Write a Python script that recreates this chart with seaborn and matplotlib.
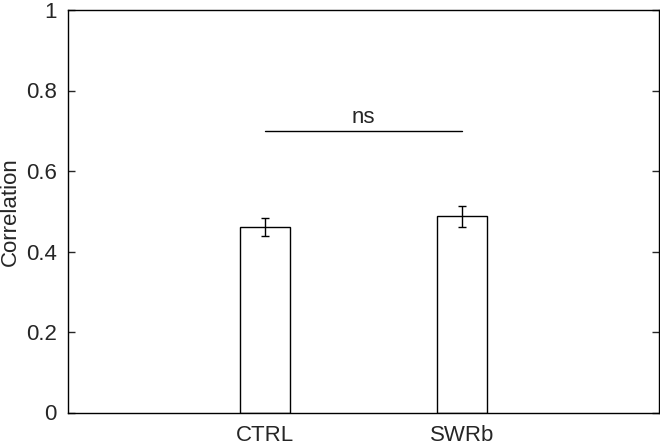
import matplotlib
matplotlib.use("Agg")
import matplotlib.pyplot as plt
import seaborn as sns
import pandas as pd

groups = ["CTRL", "SWRb"]
means = [0.461, 0.487]
errors = [0.022, 0.025]
sig_y = 0.70
sig_label = "ns"

sns.set_style("white")
plt.rcParams["font.family"] = ["Liberation Sans", "DejaVu Sans"]

df = pd.DataFrame({"group": groups, "corr": means})

fig = plt.figure(figsize=(6.6, 4.45), dpi=100)
ax = fig.add_axes([68 / 660, 1 - 412.5 / 445, 591 / 660, 402.5 / 445])

sns.barplot(data=df, x="group", y="corr", order=groups, width=0.25,
            color="white", edgecolor="black", linewidth=1.0, errorbar=None, ax=ax)
ax.errorbar(range(len(groups)), means, yerr=errors, fmt="none",
            ecolor="black", elinewidth=1.0, capsize=3, capthick=1.0)

ax.plot([0, 1], [sig_y, sig_y], color="black", lw=1.0)
ax.text(0.5, sig_y + 0.006, sig_label, ha="center", va="bottom", fontsize=16)

ax.set_xlim(-1, 2)
ax.set_ylim(0, 1)
ax.set_yticks([0, 0.2, 0.4, 0.6, 0.8, 1])
ax.set_yticklabels(["0", "0.2", "0.4", "0.6", "0.8", "1"])
ax.set_xlabel("")
ax.set_ylabel("Correlation", fontsize=16)
ax.yaxis.set_label_coords(-0.08, 0.5)
ax.tick_params(direction="in", length=5, width=1.0, labelsize=16,
               right=True, left=True, bottom=True, top=False)
ax.tick_params(axis="y", pad=8)
ax.tick_params(axis="x", pad=9)
for s in ax.spines.values():
    s.set_visible(True)
    s.set_color("black")
    s.set_linewidth(1.0)

fig.savefig("out.png", dpi=100)
